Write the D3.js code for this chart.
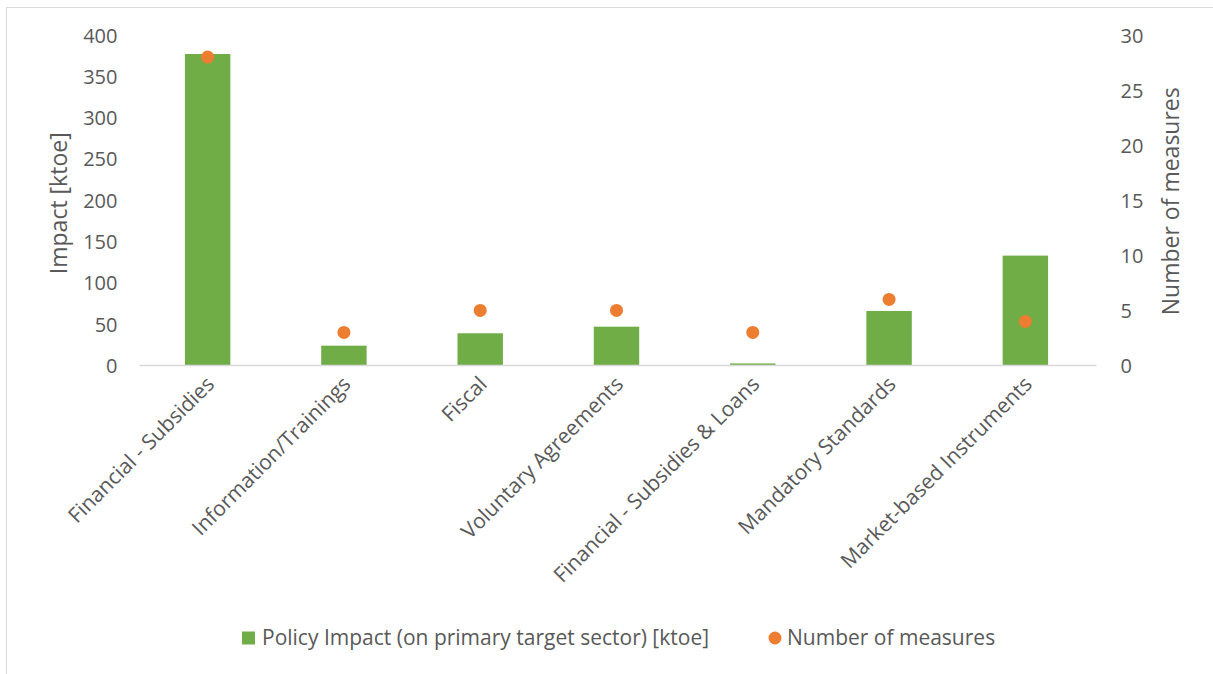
<!DOCTYPE html>
<html>
<head>
<meta charset="utf-8">
<script src="https://cdn.jsdelivr.net/npm/d3@7"></script>
<style>
  html, body { margin: 0; padding: 0; background: #fff; }
  svg text { font-family: "Open Sans", "Noto Sans", sans-serif; fill: #595959; }
</style>
</head>
<body>
<svg id="chart" width="1213" height="674"></svg>
<script>
// Policy instrument categories
const categories = [
  "Financial - Subsidies",
  "Information/Trainings",
  "Fiscal",
  "Voluntary Agreements",
  "Financial - Subsidies & Loans",
  "Mandatory Standards",
  "Market-based Instruments"
];
// Policy impact on primary target sector [ktoe]
const impact = [377, 24, 39, 47, 2.5, 66, 133];
// Number of measures per category
const measures = [28, 3, 5, 5, 3, 6, 4];

const leftTicks = [0, 50, 100, 150, 200, 250, 300, 350, 400];
const rightTicks = [0, 5, 10, 15, 20, 25, 30];

const seriesNames = ["Policy Impact (on primary target sector) [ktoe]", "Number of measures"];
const colors = { bar: "#70AD47", dot: "#ED7D31", axis: "#D9D9D9", text: "#595959" };

const svg = d3.select("#chart");

// Outer chart frame
svg.append("rect")
  .attr("x", 6.5).attr("y", 7.5)
  .attr("width", 1230).attr("height", 700)
  .attr("fill", "none").attr("stroke", colors.axis).attr("stroke-width", 1);

const plot = { left: 139.5, right: 1093.5, top: 35, bottom: 365.5 };

const x = d3.scaleBand()
  .domain(categories)
  .range([plot.left, plot.right])
  .paddingInner(2 / 3)
  .paddingOuter(1 / 3);

const yLeft = d3.scaleLinear().domain([0, 400]).range([plot.bottom, plot.top]);
const yRight = d3.scaleLinear().domain([0, 30]).range([plot.bottom, plot.top]);

// Bars
svg.append("g").selectAll("rect")
  .data(categories)
  .join("rect")
  .attr("x", d => x(d))
  .attr("width", x.bandwidth())
  .attr("y", (d, i) => yLeft(impact[i]))
  .attr("height", (d, i) => yLeft(0) - yLeft(impact[i]))
  .attr("fill", colors.bar);

// Category axis line
svg.append("line")
  .attr("x1", plot.left).attr("x2", plot.right + 3)
  .attr("y1", plot.bottom).attr("y2", plot.bottom)
  .attr("stroke", colors.axis).attr("stroke-width", 1.5);

// Left value axis
const leftAxis = svg.append("g")
  .attr("transform", `translate(${plot.left - 22},0)`)
  .call(d3.axisLeft(yLeft).tickValues(leftTicks).tickSize(0).tickPadding(0));
leftAxis.select(".domain").remove();
leftAxis.selectAll("text")
  .style("font-size", "20px")
  .attr("fill", colors.text)
  .attr("dy", "0.35em");

// Right value axis
const rightAxis = svg.append("g")
  .attr("transform", `translate(${plot.right + 27},0)`)
  .call(d3.axisRight(yRight).tickValues(rightTicks).tickSize(0).tickPadding(0));
rightAxis.select(".domain").remove();
rightAxis.selectAll("text")
  .style("font-size", "20px")
  .attr("fill", colors.text)
  .attr("dy", "0.35em");

// Axis titles
svg.append("text")
  .attr("transform", `translate(67,${(plot.top + plot.bottom) / 2 + 3}) rotate(-90)`)
  .attr("text-anchor", "middle")
  .style("font-size", "23px")
  .text("Impact [ktoe]");

svg.append("text")
  .attr("transform", `translate(1179,${(plot.top + plot.bottom) / 2 + 1}) rotate(-90)`)
  .attr("text-anchor", "middle")
  .style("font-size", "23px")
  .text("Number of measures");

// Rotated category labels
svg.append("g").selectAll("text")
  .data(categories)
  .join("text")
  .attr("transform", d => `translate(${x(d) + x.bandwidth() / 2 + 8},${plot.bottom + 20}) rotate(-45)`)
  .attr("text-anchor", "end")
  .style("font-size", "21px")
  .text(d => d);

// Number-of-measures markers
svg.append("g").selectAll("circle")
  .data(categories)
  .join("circle")
  .attr("cx", d => x(d) + x.bandwidth() / 2)
  .attr("cy", (d, i) => yRight(measures[i]))
  .attr("r", 6.5)
  .attr("fill", colors.dot);

// Legend
const legend = svg.append("g").attr("transform", "translate(0,638)");
legend.append("rect")
  .attr("x", 242).attr("y", -6.5).attr("width", 13).attr("height", 13)
  .attr("fill", colors.bar);
legend.append("text")
  .attr("x", 262).attr("y", 0).attr("dy", "0.35em")
  .style("font-size", "21px")
  .text(seriesNames[0]);
legend.append("circle")
  .attr("cx", 775).attr("cy", 0).attr("r", 6.5)
  .attr("fill", colors.dot);
legend.append("text")
  .attr("x", 787).attr("y", 0).attr("dy", "0.35em")
  .style("font-size", "21px")
  .text(seriesNames[1]);
</script>
</body>
</html>
